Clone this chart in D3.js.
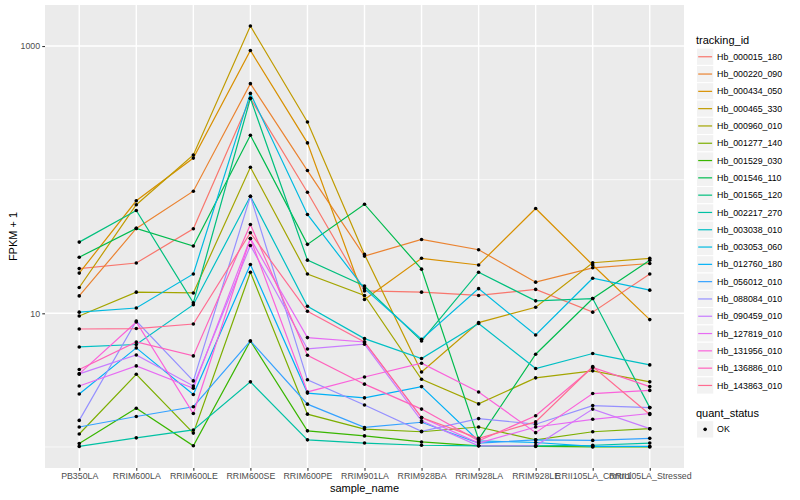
<!DOCTYPE html>
<html>
<head>
<meta charset="utf-8">
<script src="https://cdn.jsdelivr.net/npm/d3@7"></script>
<style>
  html, body { margin: 0; padding: 0; background: #ffffff; }
  svg { display: block; font-family: "Liberation Sans", Arial, Helvetica, sans-serif; }
</style>
</head>
<body>
<svg id="chart" width="800" height="500"></svg>
<script>
// ---------- data ----------
const categories = ["PB350LA","RRIM600LA","RRIM600LE","RRIM600SE","RRIM600PE","RRIM901LA",
  "RRIM928BA","RRIM928LA","RRIM928LE","RRII105LA_Control","RRII105LA_Stressed"];

const trackingIds = ["Hb_000015_180","Hb_000220_090","Hb_000434_050","Hb_000465_330","Hb_000960_010",
  "Hb_001277_140","Hb_001529_030","Hb_001546_110","Hb_001565_120","Hb_002217_270","Hb_003038_010",
  "Hb_003053_060","Hb_012760_180","Hb_056012_010","Hb_088084_010","Hb_090459_010","Hb_127819_010",
  "Hb_131956_010","Hb_136886_010","Hb_143863_010"];

// FPKM + 1, one value per sample (in categories order)
const Hb_000015_180 = [21.6, 23.8, 42.9, 406, 80.6, 14.7, 14.4, 13.6, 15.1, 10.2, 19.7];
const Hb_000220_090 = [13.5, 43.2, 82.0, 523, 117, 26.8, 35.7, 29.9, 17.1, 21.9, 23.6];
const Hb_000434_050 = [20.0, 69.5, 145, 927, 188.5, 12.7, 25.8, 23.0, 60.9, 23.0, 8.97];
const Hb_000465_330 = [15.6, 64.9, 153, 1411, 270, 27.6, 3.64, 8.52, 11.1, 23.9, 25.8];
const Hb_000960_010 = [9.55, 14.4, 14.2, 123.9, 19.7, 13.6, 3.21, 2.10, 3.29, 3.71, 3.07];
const Hb_001277_140 = [1.25, 3.50, 1.27, 20.3, 1.76, 1.36, 1.30, 1.41, 1.13, 1.30, 1.37];
const Hb_001529_030 = [1.06, 1.95, 1.02, 6.21, 1.32, 1.21, 1.09, 1.02, 1.01, 1.00, 1.00];
const Hb_001546_110 = [26.3, 43.2, 31.9, 215, 32.8, 65.5, 21.4, 1.14, 4.94, 12.9, 25.0];
const Hb_001565_120 = [34.1, 58.8, 12.0, 406, 25.0, 16.0, 6.21, 20.3, 12.4, 12.9, 1.97];
const Hb_002217_270 = [1.01, 1.17, 1.34, 3.07, 1.13, 1.07, 1.03, 1.02, 1.02, 1.03, 1.07];
const Hb_003038_010 = [5.60, 5.84, 11.6, 75.2, 11.3, 6.47, 4.59, 8.38, 3.86, 5.00, 4.11];
const Hb_003053_060 = [10.2, 10.96, 19.7, 442, 54.9, 15.3, 6.39, 15.3, 6.88, 18.3, 14.9];
const Hb_012760_180 = [2.49, 5.51, 2.47, 23.2, 2.53, 2.33, 2.83, 1.11, 1.08, 1.01, 1.01];
const Hb_056012_010 = [1.41, 1.69, 2.00, 6.21, 2.09, 1.40, 1.53, 1.07, 1.13, 1.12, 1.16];
const Hb_088084_010 = [1.58, 8.76, 3.12, 75.2, 3.18, 2.06, 1.31, 1.63, 1.48, 2.04, 1.97];
const Hb_090459_010 = [3.52, 4.88, 2.86, 32.2, 5.41, 5.87, 1.57, 1.02, 1.02, 1.92, 1.37];
const Hb_127819_010 = [2.86, 4.04, 2.75, 36.3, 6.58, 6.10, 1.66, 1.07, 1.41, 1.61, 1.78];
const Hb_131956_010 = [3.52, 8.61, 1.78, 36.3, 2.58, 3.34, 4.23, 2.58, 1.28, 2.51, 2.65];
const Hb_136886_010 = [3.80, 6.10, 4.80, 46.2, 4.86, 2.95, 1.92, 1.11, 1.71, 3.93, 2.83];
const Hb_143863_010 = [7.63, 7.69, 8.32, 40.1, 10.35, 6.10, 1.66, 1.16, 1.54, 4.00, 1.75];

const seriesValues = [Hb_000015_180, Hb_000220_090, Hb_000434_050, Hb_000465_330, Hb_000960_010,
  Hb_001277_140, Hb_001529_030, Hb_001546_110, Hb_001565_120, Hb_002217_270, Hb_003038_010,
  Hb_003053_060, Hb_012760_180, Hb_056012_010, Hb_088084_010, Hb_090459_010, Hb_127819_010,
  Hb_131956_010, Hb_136886_010, Hb_143863_010];

const yMajorTicks = [10, 1000];
const yMinorTicks = [1, 100];
const quantStatus = ["OK"];

// ---------- styling ----------
const palette = ["#F8766D","#EA8331","#D89000","#C09B00","#A3A500","#7CAE00","#39B600","#00BB4E",
  "#00BF7D","#00C1A3","#00BFC4","#00BAE0","#00B0F6","#35A2FF","#9590FF","#C77CFF","#E76BF3",
  "#FA62DB","#FF62BC","#FF6C91"];

const panel = { left: 45, right: 684, top: 5, bottom: 468 };
const svg = d3.select("#chart");

const series = trackingIds.map((id, i) => ({
  id, color: palette[i],
  points: categories.map((c, j) => ({ cat: c, value: seriesValues[i][j] }))
}));

// scales
const x = d3.scalePoint().domain(categories).range([panel.left, panel.right]).padding(0.6);
const allVals = seriesValues.flat();
const lmin = Math.log10(d3.min(allVals)), lmax = Math.log10(d3.max(allVals));
const ex = (lmax - lmin) * 0.05;
const y = d3.scaleLog().domain([Math.pow(10, lmin - ex), Math.pow(10, lmax + ex)])
  .range([panel.bottom, panel.top]);

// panel background
svg.append("rect").attr("x", panel.left).attr("y", panel.top)
  .attr("width", panel.right - panel.left).attr("height", panel.bottom - panel.top)
  .attr("fill", "#EBEBEB");

const grid = svg.append("g");
grid.selectAll("line.minor").data(yMinorTicks).enter().append("line")
  .attr("x1", panel.left).attr("x2", panel.right)
  .attr("y1", d => y(d)).attr("y2", d => y(d))
  .attr("stroke", "#fff").attr("stroke-width", 0.7);
grid.selectAll("line.majory").data(yMajorTicks).enter().append("line")
  .attr("x1", panel.left).attr("x2", panel.right)
  .attr("y1", d => y(d)).attr("y2", d => y(d))
  .attr("stroke", "#fff").attr("stroke-width", 1.4);
grid.selectAll("line.majorx").data(categories).enter().append("line")
  .attr("x1", d => x(d)).attr("x2", d => x(d))
  .attr("y1", panel.top).attr("y2", panel.bottom)
  .attr("stroke", "#fff").attr("stroke-width", 1.4);

// lines
const line = d3.line().x(d => x(d.cat)).y(d => y(d.value));
svg.append("g").selectAll("path").data(series).enter().append("path")
  .attr("d", d => line(d.points))
  .attr("fill", "none").attr("stroke", d => d.color).attr("stroke-width", 1.2);

// points
svg.append("g").selectAll("g").data(series).enter().append("g")
  .selectAll("circle").data(d => d.points).enter().append("circle")
  .attr("cx", d => x(d.cat)).attr("cy", d => y(d.value)).attr("r", 1.8).attr("fill", "#000");

// axes
const yAxis = d3.axisLeft(y).tickValues(yMajorTicks).tickFormat(d3.format("d")).tickSize(2.75).tickPadding(2.2);
const gy = svg.append("g").attr("transform", `translate(${panel.left},0)`).call(yAxis);
gy.select(".domain").remove();
gy.selectAll(".tick line").attr("stroke", "#333333").attr("stroke-width", 1.1);
gy.selectAll(".tick text").attr("fill", "#4D4D4D").attr("font-size", "8.8px")
  .attr("font-family", "Liberation Sans, Arial, sans-serif");

const xAxis = d3.axisBottom(x).tickSize(2.75).tickPadding(2.2);
const gx = svg.append("g").attr("transform", `translate(0,${panel.bottom})`).call(xAxis);
gx.select(".domain").remove();
gx.selectAll(".tick line").attr("stroke", "#333333").attr("stroke-width", 1.1);
gx.selectAll(".tick text").attr("fill", "#4D4D4D").attr("font-size", "8.8px")
  .attr("font-family", "Liberation Sans, Arial, sans-serif");

// axis titles
svg.append("text").attr("x", (panel.left + panel.right) / 2).attr("y", 492)
  .attr("text-anchor", "middle").attr("font-size", "11px").attr("fill", "#000").text("sample_name");
svg.append("text").attr("transform", `translate(17,${(panel.top + panel.bottom) / 2}) rotate(-90)`)
  .attr("text-anchor", "middle").attr("font-size", "11px").attr("fill", "#000").text("FPKM + 1");

// legend: tracking_id
const lg = svg.append("g");
const keyX = 696.5, keyW = 17.3, firstKeyTop = 48.1;
lg.append("text").attr("x", 696).attr("y", 43.5).attr("font-size", "11px").attr("fill", "#000").text("tracking_id");
const items = lg.selectAll("g.item").data(series).enter().append("g")
  .attr("transform", (d, i) => `translate(${keyX},${firstKeyTop + i * keyW})`);
items.append("rect").attr("width", keyW).attr("height", keyW).attr("fill", "#F2F2F2")
  .attr("stroke", "#fff").attr("stroke-width", 1);
items.append("line").attr("x1", 1.7).attr("x2", keyW - 1.7).attr("y1", keyW / 2).attr("y2", keyW / 2)
  .attr("stroke", d => d.color).attr("stroke-width", 1.2);
items.append("text").attr("x", keyW + 3.3).attr("y", keyW / 2).attr("dy", "0.35em")
  .attr("font-size", "8.8px").attr("fill", "#000").text(d => d.id);

// legend: quant_status
const qs = svg.append("g");
qs.append("text").attr("x", 696).attr("y", 416.5).attr("font-size", "11px").attr("fill", "#000").text("quant_status");
const qItems = qs.selectAll("g.q").data(quantStatus).enter().append("g")
  .attr("transform", (d, i) => `translate(${keyX},${420.7 + i * keyW})`);
qItems.append("rect").attr("width", keyW).attr("height", keyW).attr("fill", "#F2F2F2")
  .attr("stroke", "#fff").attr("stroke-width", 1);
qItems.append("circle").attr("cx", keyW / 2).attr("cy", keyW / 2).attr("r", 1.8).attr("fill", "#000");
qItems.append("text").attr("x", keyW + 3.3).attr("y", keyW / 2).attr("dy", "0.35em")
  .attr("font-size", "8.8px").attr("fill", "#000").text(d => d);
</script>
</body>
</html>
